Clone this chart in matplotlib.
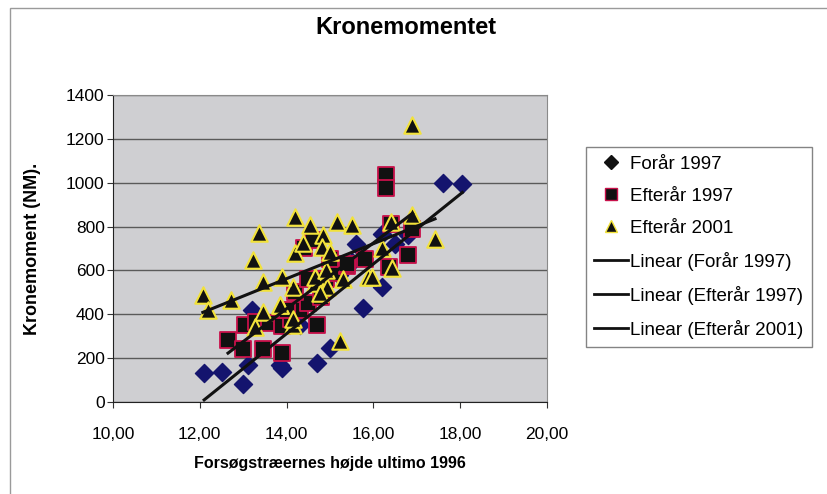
import numpy as np
import matplotlib
matplotlib.use("Agg")
import matplotlib.pyplot as plt
from matplotlib.patches import Rectangle
from matplotlib.lines import Line2D

# ==============================================================
# Data
# ==============================================================
forar97_x = [12.1, 12.5, 13.0, 13.1, 13.2, 13.85, 13.9, 14.3, 14.7, 14.8, 15.0,
             15.2, 15.5, 15.6, 15.75, 16.2, 16.2, 16.5, 16.8, 17.6, 18.05]
forar97_y = [130, 137, 80, 170, 420, 170, 155, 350, 178, 530, 246,
             580, 640, 720, 430, 525, 765, 720, 760, 1000, 995]

efter97_x = [12.65, 13.0, 13.45, 13.9, 13.05, 13.3, 13.6, 13.9, 14.1, 14.3,
             14.5, 14.7, 14.8, 14.9, 15.1, 15.4, 15.8, 16.35, 16.8, 16.4,
             16.9, 16.3, 16.3, 14.4, 14.6, 15.0, 15.4, 14.2, 14.5, 14.0]
efter97_y = [283, 240, 240, 225, 350, 365, 360, 345, 380, 420,
             450, 350, 480, 560, 590, 620, 650, 615, 670, 810,
             790, 1035, 975, 700, 740, 650, 630, 500, 560, 420]

efter01_x = [12.07, 12.2, 12.72, 13.23, 13.36, 13.45, 13.45, 13.27, 13.85, 14.15,
             14.15, 14.2, 14.38, 14.65, 14.19, 14.54, 15.16, 15.5, 14.84, 14.82,
             15.0, 15.88, 14.65, 14.93, 14.77, 13.9, 16.89, 16.4, 16.89, 17.42,
             16.43, 15.97, 14.15, 15.23, 13.85, 14.9, 15.3, 16.2]
efter01_y = [488, 420, 466, 648, 770, 548, 410, 343, 443, 352,
             525, 680, 726, 543, 845, 808, 822, 808, 762, 708,
             685, 571, 571, 525, 498, 571, 1265, 822, 854, 745,
             612, 568, 380, 280, 443, 600, 560, 700]

series_names = ["Forår 1997", "Efterår 1997", "Efterår 2001"]

# ==============================================================
# Figure
# ==============================================================
plt.rcParams['font.family'] = ['Liberation Sans', 'DejaVu Sans']

fig = plt.figure(figsize=(8.27, 4.94), dpi=100)
fig.patches.append(Rectangle((10 / 827, -0.01), 1.0, 1 - 8 / 494 + 0.01,
                             transform=fig.transFigure, fill=False,
                             edgecolor="#9a9a9a", lw=1.0))

ax = fig.add_axes([113 / 827, 1 - 402 / 494, (547 - 113) / 827, (402 - 95) / 494])
ax.set_facecolor("#cfcfd2")

ax.set_xlim(10, 20)
ax.set_ylim(0, 1400)
ax.set_xticks(np.arange(10, 21, 2))
ax.set_xticklabels([f"{v:.2f}".replace(".", ",") for v in np.arange(10, 21, 2)])
ax.set_yticks(np.arange(0, 1401, 200))
ax.grid(True, axis="y", color="#5a5a5a", lw=1.0)
ax.set_axisbelow(True)

for s in ["left", "bottom"]:
    ax.spines[s].set_color("#222222")
for s in ["top", "right"]:
    ax.spines[s].set_color("#8a8a8a")
ax.tick_params(direction="out", length=4, labelsize=12.5, color="#333333")
ax.tick_params(axis="y", pad=2)
ax.tick_params(axis="x", pad=14)

# markers
ax.scatter(forar97_x, forar97_y, marker="D", s=85, color="#14146e",
           edgecolors="#14146e", zorder=3)
ax.scatter(efter97_x, efter97_y, marker="s", s=125, color="#111111",
           edgecolors="#c8104a", linewidths=1.3, zorder=4)
ax.scatter(efter01_x, efter01_y, marker="^", s=140, color="#111111",
           edgecolors="#f2e23a", linewidths=1.5, zorder=5)

# linear trendlines
for xs, ys in [(forar97_x, forar97_y), (efter97_x, efter97_y), (efter01_x, efter01_y)]:
    k, m = np.polyfit(xs, ys, 1)
    xx = np.array([min(xs), max(xs)])
    ax.plot(xx, k * xx + m, color="#111111", lw=2.2, zorder=6)

fig.text(406 / 827, 1 - 28 / 494, "Kronemomentet", ha="center", va="center",
         fontsize=17, fontweight="bold")
ax.set_xlabel("Forsøgstræernes højde ultimo 1996", fontsize=11.5,
              fontweight="bold", labelpad=10)
ax.set_ylabel("Kronemoment (NM).", fontsize=13, fontweight="bold", labelpad=18)

handles = [
    Line2D([], [], marker="D", ls="none", color="#111111", markersize=7),
    Line2D([], [], marker="s", ls="none", color="#111111",
           markeredgecolor="#c8104a", markersize=9),
    Line2D([], [], marker="^", ls="none", color="#111111",
           markeredgecolor="#f2e23a", markersize=9),
    Line2D([], [], color="#111111", lw=2),
    Line2D([], [], color="#111111", lw=2),
    Line2D([], [], color="#111111", lw=2),
]
labels = series_names + ["Linear (" + n + ")" for n in series_names]
leg = fig.legend(handles, labels, loc="upper left",
                 bbox_to_anchor=(586 / 827, 1 - 147 / 494), fontsize=13.5,
                 frameon=True, fancybox=False, edgecolor="#666666",
                 handlelength=1.8, handletextpad=0.1, labelspacing=0.8,
                 borderpad=0.45, borderaxespad=0)
leg.get_frame().set_linewidth(1.0)

fig.savefig("out.png", dpi=100)
